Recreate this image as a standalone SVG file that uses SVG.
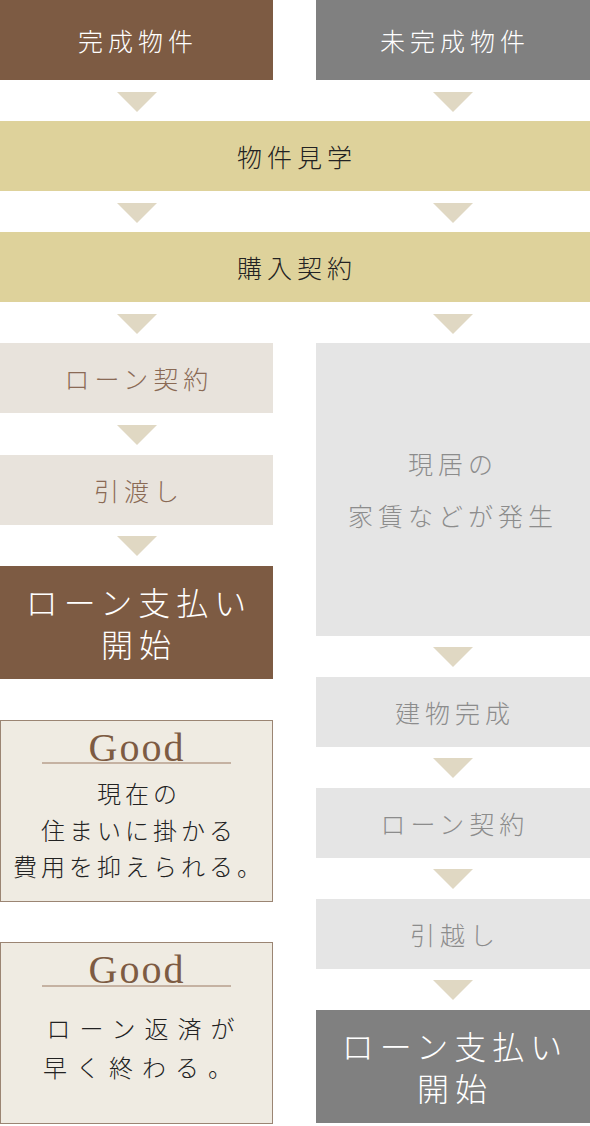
<svg xmlns="http://www.w3.org/2000/svg" width="590" height="1126" viewBox="0 0 590 1126">
<style>
text{font-family:"Noto Sans CJK JP","Noto Sans",sans-serif;text-anchor:middle;dominant-baseline:central;font-weight:300}
.h{font-size:25px;letter-spacing:5px}
.w{fill:#ffffff}
.k{fill:#222222}
.b{fill:#8a6a55}
.g{fill:#8c8c8c}
.big{font-size:32px;letter-spacing:6px;fill:#ffffff}
.good{font-family:"Liberation Serif",serif;font-size:40px;fill:#7d5b43;letter-spacing:2px;font-weight:400}
.gt{font-size:24px;letter-spacing:4px;fill:#222222}
.tri{fill:#e0d8c3}
.gbox{fill:#efebe2;stroke:#9b8573;stroke-width:1}
</style>
<defs>
<polygon id="arr" class="tri" points="-20,0 20,0 0,20"/>
</defs>
<g id="connectors">
<use href="#arr" x="137" y="92"/>
<use href="#arr" x="453" y="92"/>
<use href="#arr" x="137" y="203"/>
<use href="#arr" x="453" y="203"/>
<use href="#arr" x="137" y="314"/>
<use href="#arr" x="453" y="314"/>
<use href="#arr" x="137" y="425"/>
<use href="#arr" x="137" y="536"/>
<use href="#arr" x="453" y="647"/>
<use href="#arr" x="453" y="758"/>
<use href="#arr" x="453" y="869"/>
<use href="#arr" x="453" y="980"/>
</g>
<g id="kansei">
<rect x="0" y="0" width="273" height="80" fill="#7d5b43"/>
<text x="138" y="40" class="h w">完成物件</text>
</g>
<g id="mikansei">
<rect x="316" y="0" width="274" height="80" fill="#808080"/>
<text x="455" y="40" class="h w">未完成物件</text>
</g>
<g id="kengaku">
<rect x="0" y="121" width="590" height="70" fill="#ded29b"/>
<text x="297" y="156" class="h k">物件見学</text>
</g>
<g id="kounyu">
<rect x="0" y="232" width="590" height="70" fill="#ded29b"/>
<text x="297" y="267" class="h k">購入契約</text>
</g>
<g id="loan-left">
<rect x="0" y="343" width="273" height="70" fill="#e8e3dc"/>
<text x="139" y="378" class="h b">ローン契約</text>
</g>
<g id="hikiwatashi">
<rect x="0" y="455" width="273" height="70" fill="#e8e3dc"/>
<text x="139" y="490" class="h b">引渡し</text>
</g>
<g id="pay-left">
<rect x="0" y="566" width="273" height="113" fill="#7d5b43"/>
<text x="139" y="601" class="big">ローン支払い</text>
<text x="139" y="643" class="big">開始</text>
</g>
<g id="genkyo">
<rect x="316" y="343" width="274" height="293" fill="#e5e5e5"/>
<text x="453" y="463" class="h g">現居の</text>
<text x="453" y="515" class="h g">家賃などが発生</text>
</g>
<g id="kenchiku">
<rect x="316" y="677" width="274" height="70" fill="#e5e5e5"/>
<text x="455" y="712" class="h g">建物完成</text>
</g>
<g id="loan-right">
<rect x="316" y="788" width="274" height="70" fill="#e5e5e5"/>
<text x="455" y="823" class="h g">ローン契約</text>
</g>
<g id="hikkoshi">
<rect x="316" y="899" width="274" height="70" fill="#e5e5e5"/>
<text x="455" y="934" class="h g">引越し</text>
</g>
<g id="pay-right">
<rect x="316" y="1010" width="274" height="113" fill="#808080"/>
<text x="455" y="1045" class="big">ローン支払い</text>
<text x="455" y="1087" class="big">開始</text>
</g>
<g id="good1">
<rect x="0.5" y="720.5" width="272" height="181" class="gbox"/>
<text x="137" y="747" class="good">Good</text>
<line x1="42" y1="763" x2="231" y2="763" stroke="#9b7a62" stroke-width="1.2"/>
<text x="139" y="792" class="gt">現在の</text>
<text x="139" y="829" class="gt">住まいに掛かる</text>
<text x="139" y="865" class="gt">費用を抑えられる。</text>
</g>
<g id="good2">
<rect x="0.5" y="942.5" width="272" height="181" class="gbox"/>
<text x="137" y="969" class="good">Good</text>
<line x1="42" y1="986" x2="231" y2="986" stroke="#9b7a62" stroke-width="1.2"/>
<text x="145" y="1027" class="gt" style="letter-spacing:9px">ローン返済が</text>
<text x="142" y="1066" class="gt" style="letter-spacing:9px">早く終わる。</text>
</g>
</svg>
